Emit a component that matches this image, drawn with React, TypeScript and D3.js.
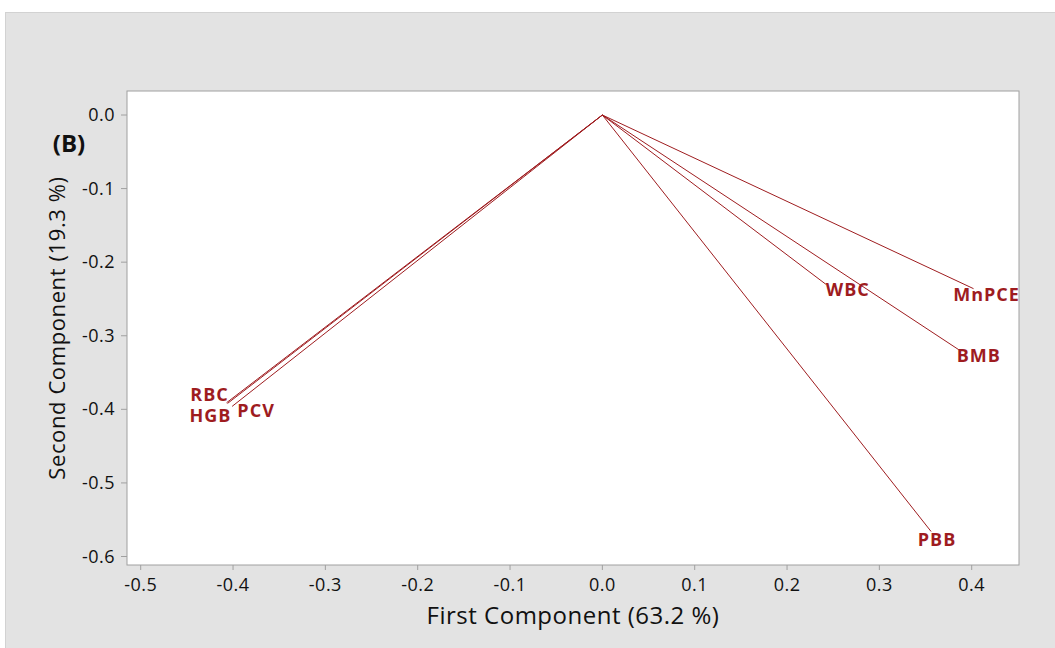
import React from "react";
import * as d3 from "d3";

// Loading vectors on the first two principal components
const variables = ["RBC", "HGB", "PCV", "WBC", "MnPCE", "BMB", "PBB"];
const pc1 = [-0.407, -0.406, -0.401, 0.242, 0.402, 0.386, 0.356];
const pc2 = [-0.391, -0.392, -0.396, -0.230, -0.236, -0.319, -0.566];
// label offsets (px) relative to vector tip
const labelDx = [-17, -17, 24, 22, 13, 20, 6];
const labelDy = [-2, 19, 11, 12, 12, 12, 15];

const xTicks = [-0.5, -0.4, -0.3, -0.2, -0.1, 0.0, 0.1, 0.2, 0.3, 0.4];
const yTicks = [0.0, -0.1, -0.2, -0.3, -0.4, -0.5, -0.6];

const W = 1055;
const H = 648;
const plot = { left: 127, top: 91, right: 1019, bottom: 565 };
const FONT = "'Open Sans', 'Noto Sans', sans-serif";
const RED = "#9e1c1f";

// one decimal, with a plain hyphen for negatives
const fmt = (v: number) => d3.format(".1f")(v).replace("\u2212", "-");

export default function App() {
  const x = d3.scaleLinear().domain([-0.5, 0.4]).range([140.7, 971.7]);
  const y = d3.scaleLinear().domain([0, -0.6]).range([115, 556.5]);

  return (
    <svg
      width={W}
      height={H}
      style={{ position: "absolute", left: 0, top: 0, display: "block" }}
    >
      <rect x={0} y={0} width={W} height={H} fill="#ffffff" />
      <rect x={5.5} y={12.5} width={W} height={H} fill="#e3e3e3" stroke="#d2d2d2" />
      <rect
        x={plot.left}
        y={plot.top}
        width={plot.right - plot.left}
        height={plot.bottom - plot.top}
        fill="#ffffff"
        stroke="#a0a0a0"
        strokeWidth={1}
      />
      {/* x axis ticks */}
      {xTicks.map((t) => (
        <g key={"x" + t}>
          <line x1={x(t)} x2={x(t)} y1={plot.bottom} y2={plot.bottom + 5} stroke="#a0a0a0" />
          <text
            x={x(t)}
            y={plot.bottom + 26}
            textAnchor="middle"
            fontFamily={FONT}
            fontSize={18}
            letterSpacing={0.5}
            fill="#111"
          >
            {fmt(t)}
          </text>
        </g>
      ))}
      {/* y axis ticks */}
      {yTicks.map((t) => (
        <g key={"y" + t}>
          <line x1={plot.left - 6} x2={plot.left} y1={y(t)} y2={y(t)} stroke="#a0a0a0" />
          <text
            x={plot.left - 12}
            y={y(t) + 6}
            textAnchor="end"
            fontFamily={FONT}
            fontSize={18}
            letterSpacing={0.5}
            fill="#111"
          >
            {fmt(t)}
          </text>
        </g>
      ))}
      {/* loading vectors */}
      {variables.map((v, i) => (
        <line
          key={"l" + v}
          x1={x(0)}
          y1={y(0)}
          x2={x(pc1[i])}
          y2={y(pc2[i])}
          stroke={RED}
          strokeWidth={1}
        />
      ))}
      {variables.map((v, i) => (
        <text
          key={"t" + v}
          x={x(pc1[i]) + labelDx[i]}
          y={y(pc2[i]) + labelDy[i]}
          textAnchor="middle"
          fontFamily={FONT}
          fontWeight="bold"
          fontSize={18}
          letterSpacing={1}
          fill={RED}
        >
          {v}
        </text>
      ))}
      <text x={69} y={152} textAnchor="middle" fontFamily={FONT} fontWeight="bold" fontSize={24} fill="#111">
        (B)
      </text>
      <text
        x={573}
        y={624}
        textAnchor="middle"
        fontFamily={FONT}
        fontSize={24}
        letterSpacing={0.5}
        fill="#111"
      >
        First Component (63.2 %)
      </text>
      <text
        transform={`translate(65,328) rotate(-90)`}
        textAnchor="middle"
        fontFamily={FONT}
        fontSize={22}
        letterSpacing={0.6}
        fill="#111"
      >
        Second Component (19.3 %)
      </text>
    </svg>
  );
}
